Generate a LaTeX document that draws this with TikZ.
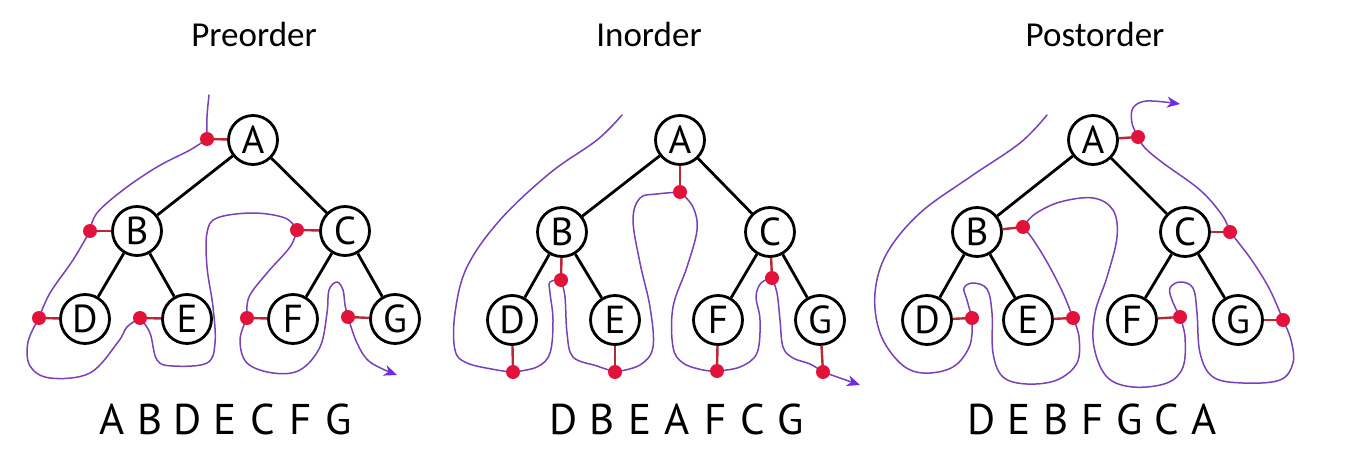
\documentclass[tikz,border=0pt]{standalone}
\usepackage{fontspec}
\setmainfont{PT Sans}
\newfontfamily\titlefont{Carlito}
\usetikzlibrary{arrows.meta}
\definecolor{curvec}{RGB}{120,65,185}
\definecolor{arrowc}{RGB}{115,40,225}
\definecolor{dotred}{RGB}{226,18,58}
\definecolor{connc}{RGB}{185,40,55}
\begin{document}
\begin{tikzpicture}[x=1pt,y=-1pt,
  tnode/.style={circle,draw=black,line width=2.8pt,fill=white,minimum size=49pt,inner sep=0pt,font=\fontsize{39}{39}\selectfont},
  edge/.style={line width=2.8pt},
  conn/.style={draw=connc,line width=2.4pt},
  reddot/.style={fill=dotred},
  walk/.style={draw=curvec,line width=1.5pt,line cap=round,line join=round},
  walkend/.style={walk,-{Stealth[length=13pt,width=11pt,inset=4pt,color=arrowc]}},
  title/.style={font=\titlefont\fontsize{35}{35}\selectfont,anchor=base},
  seq/.style={font=\fontsize{43}{43}\selectfont,anchor=base}]
\useasboundingbox (0,0) rectangle (1360,468);
\fill[white] (0,0) rectangle (1360,468);

% titles
\node[title] (t1) at (254,47) {Preorder};
\node[title] (t2) at (649,47) {Inorder};
\node[title] (t3) at (1095,47) {Postorder};

% ---------- Preorder tree ----------
\node[tnode] (pA) at (253,140) {A};
\node[tnode] (pB) at (137,231) {B};
\node[tnode] (pC) at (345,231) {C};
\node[tnode] (pD) at (85,319) {D};
\node[tnode] (pE) at (187,319) {E};
\node[tnode] (pF) at (293,319) {F};
\node[tnode] (pG) at (395,319) {G};
\draw[edge] (pA) -- (pB); \draw[edge] (pA) -- (pC);
\draw[edge] (pB) -- (pD); \draw[edge] (pB) -- (pE);
\draw[edge] (pC) -- (pF); \draw[edge] (pC) -- (pG);

\coordinate (pdA) at (207,139);
\coordinate (pdB) at (90,231);
\coordinate (pdC) at (297,230);
\coordinate (pdD) at (39,318);
\coordinate (pdE) at (140,318);
\coordinate (pdF) at (247,318);
\coordinate (pdG) at (348,317);

\draw[walk] plot[smooth,tension=0.6] coordinates {(209,95) (207,117) (pdA)};
\draw[walk] plot[smooth,tension=0.6] coordinates {(pdA) (190,150) (157,167) (123,190) (97,213) (pdB)};
\draw[walk] plot[smooth,tension=0.6] coordinates {(pdB) (73,260) (50,293) (pdD)};
\draw[walk] plot[smooth,tension=0.6] coordinates {(pdD) (28,342) (30,366) (50,378) (90,373) (118,342) (127,327) (pdE)};
\draw[walk] plot[smooth,tension=0.6] coordinates {(pdE) (150,333) (157,360) (173,366) (207,363) (215,343) (213,307) (207,267) (207,233) (217,218) (253,213) (285,218) (pdC)};
\draw[walk] plot[smooth,tension=0.6] coordinates {(pdC) (290,247) (267,273) (249,297) (pdF)};
\draw[walk] plot[smooth,tension=0.6] coordinates {(pdF) (240,340) (247,363) (273,373) (300,370) (320,347) (327,313) (329,290) (337,282) (343,290) (345,305) (pdG)};
\draw[walkend] plot[smooth,tension=0.6] coordinates {(pdG) (357,343) (370,362) (397,375)};

\foreach \n in {A,B,C,D,E,F,G}{
  \draw[conn] (pd\n) -- (p\n);
  \fill[reddot] (pd\n) circle (7);
}

% ---------- Inorder tree ----------
\node[tnode] (iA) at (680,140) {A};
\node[tnode] (iB) at (562,232) {B};
\node[tnode] (iC) at (770,232) {C};
\node[tnode] (iD) at (512,320) {D};
\node[tnode] (iE) at (615,320) {E};
\node[tnode] (iF) at (718,320) {F};
\node[tnode] (iG) at (820,320) {G};
\draw[edge] (iA) -- (iB); \draw[edge] (iA) -- (iC);
\draw[edge] (iB) -- (iD); \draw[edge] (iB) -- (iE);
\draw[edge] (iC) -- (iF); \draw[edge] (iC) -- (iG);

\coordinate (idA) at (680,192);
\coordinate (idB) at (561,280);
\coordinate (idC) at (772,278);
\coordinate (idD) at (513,372);
\coordinate (idE) at (615,372);
\coordinate (idF) at (717,371);
\coordinate (idG) at (823,372);

\draw[walk] plot[smooth,tension=0.6] coordinates {(622,115) (597,140) (550,173) (500,220) (467,267) (455,313) (455,350) (467,363) (497,370) (idD)};
\draw[walk] plot[smooth,tension=0.6] coordinates {(idD) (537,367) (550,353) (553,320) (550,293) (550,282) (idB)};
\draw[walk] plot[smooth,tension=0.6] coordinates {(idB) (565,297) (567,333) (573,357) (597,366) (idE)};
\draw[walk] plot[smooth,tension=0.6] coordinates {(idE) (640,365) (653,347) (650,307) (640,263) (633,220) (640,198) (657,194) (idA)};
\draw[walk] plot[smooth,tension=0.6] coordinates {(idA) (693,207) (697,230) (687,267) (673,307) (673,347) (683,363) (703,370) (idF)};
\draw[walk] plot[smooth,tension=0.6] coordinates {(idF) (740,367) (757,353) (760,320) (756,297) (761,283) (idC)};
\draw[walk] plot[smooth,tension=0.6] coordinates {(idC) (777,293) (780,320) (783,347) (793,358) (810,364) (idG)};
\draw[walkend] plot[smooth,tension=0.6] coordinates {(idG) (840,378) (860,385)};

\foreach \n in {A,B,C,D,E,F,G}{
  \draw[conn] (id\n) -- (i\n);
  \fill[reddot] (id\n) circle (7);
}

% ---------- Postorder tree ----------
\node[tnode] (oA) at (1093,140) {A};
\node[tnode] (oB) at (977,232) {B};
\node[tnode] (oC) at (1185,232) {C};
\node[tnode] (oD) at (927,320) {D};
\node[tnode] (oE) at (1028,320) {E};
\node[tnode] (oF) at (1132,320) {F};
\node[tnode] (oG) at (1238,320) {G};
\draw[edge] (oA) -- (oB); \draw[edge] (oA) -- (oC);
\draw[edge] (oB) -- (oD); \draw[edge] (oB) -- (oE);
\draw[edge] (oC) -- (oF); \draw[edge] (oC) -- (oG);

\coordinate (odA) at (1138,137);
\coordinate (odB) at (1023,227);
\coordinate (odC) at (1230,232);
\coordinate (odD) at (972,318);
\coordinate (odE) at (1073,318);
\coordinate (odF) at (1180,317);
\coordinate (odG) at (1283,320);

\draw[walk] plot[smooth,tension=0.6] coordinates {(1047,115) (1020,143) (970,177) (920,213) (887,253) (875,293) (880,333) (900,363) (923,373) (953,367) (970,345) (odD)};
\draw[walk] plot[smooth,tension=0.6] coordinates {(odD) (967,300) (964,288) (973,283) (987,289) (992,313) (993,353) (1003,377) (1027,384) (1057,380) (1077,363) (1079,337) (odE)};
\draw[walk] plot[smooth,tension=0.6] coordinates {(odE) (1063,293) (1047,262) (1032,238) (odB)};
\draw[walk] plot[smooth,tension=0.6] coordinates {(odB) (1035,214) (1060,202) (1093,198) (1113,210) (1117,237) (1107,277) (1095,313) (1094,347) (1107,377) (1133,387) (1167,383) (1183,367) (1185,337) (odF)};
\draw[walk] plot[smooth,tension=0.6] coordinates {(odF) (1172,300) (1170,288) (1180,282) (1193,288) (1197,313) (1200,353) (1213,377) (1243,383) (1280,380) (1293,363) (1291,340) (odG)};
\draw[walk] plot[smooth,tension=0.6] coordinates {(odG) (1270,290) (1253,262) (1238,242) (odC)};
\draw[walk] plot[smooth,tension=0.6] coordinates {(odC) (1222,215) (1200,190) (1163,163) (1145,148) (odA)};
\draw[walkend] plot[smooth,tension=0.6] coordinates {(odA) (1132,123) (1133,108) (1147,101) (1180,104)};

\foreach \n in {A,B,C,D,E,F,G}{
  \draw[conn] (od\n) -- (o\n);
  \fill[reddot] (od\n) circle (7);
}

% ---------- sequences ----------
\foreach \l [count=\i from 0] in {A,B,D,E,C,F,G}
  \node[seq] (ps\i) at (112+37.7*\i,434) {\l};
\foreach \l [count=\i from 0] in {D,B,E,A,F,C,G}
  \node[seq] (is\i) at (564+37.8*\i,434) {\l};
\foreach \l [count=\i from 0] in {D,E,B,F,G,C,A}
  \node[seq] (os\i) at (982+37*\i,434) {\l};
\end{tikzpicture}
\end{document}
